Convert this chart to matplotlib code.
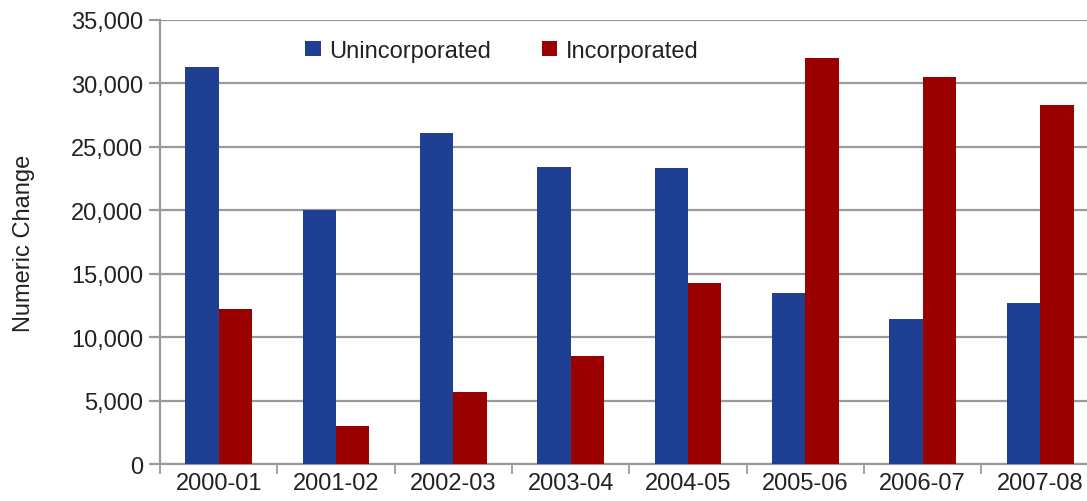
import numpy as np
import matplotlib
matplotlib.use("Agg")
import matplotlib.pyplot as plt
from matplotlib.ticker import FuncFormatter, FixedLocator, NullFormatter

plt.rcParams["font.family"] = ["Liberation Sans", "DejaVu Sans"]

years = ["2000-01", "2001-02", "2002-03", "2003-04", "2004-05", "2005-06", "2006-07", "2007-08"]
unincorporated = [31300, 20000, 26100, 23400, 23300, 13500, 11400, 12700]
incorporated = [12200, 3000, 5700, 8500, 14300, 32000, 30500, 28300]

blue = "#1f3f93"
red = "#9b0000"
grid_c = "#9a9a9a"

fig = plt.figure(figsize=(10.87, 5.02), dpi=100)
ax = fig.add_axes([0.1472, 0.0737, 0.8636, 0.8845])

x = np.arange(len(years))
w = 0.285
ax.bar(x - w / 2, unincorporated, w, color=blue, label="Unincorporated", zorder=3)
ax.bar(x + w / 2, incorporated, w, color=red, label="Incorporated", zorder=3)

ax.set_xlim(-0.5, len(years) - 0.5)
ax.set_ylim(0, 35000)
ax.set_yticks(np.arange(0, 35001, 5000))
ax.yaxis.set_major_formatter(FuncFormatter(lambda v, p: f"{int(v):,}"))
ax.yaxis.grid(True, color=grid_c, linewidth=1.6, zorder=0)

ax.set_xticks(x)
ax.set_xticklabels(years)
ax.tick_params(axis="x", which="major", length=0, labelsize=17, colors="#222222", pad=6)
ax.xaxis.set_minor_locator(FixedLocator(np.arange(-0.5, len(years), 1.0)))
ax.xaxis.set_minor_formatter(NullFormatter())
ax.tick_params(axis="x", which="minor", length=7, width=1.3, color=grid_c)
ax.tick_params(axis="y", length=8, width=1.6, color=grid_c, labelsize=17,
               labelcolor="#222222", pad=4)

for s in ["top", "right"]:
    ax.spines[s].set_visible(False)
for s in ["left", "bottom"]:
    ax.spines[s].set_color(grid_c)
    ax.spines[s].set_linewidth(1.6)

ax.set_ylabel("Numeric Change", fontsize=17, color="#222222", labelpad=26)

leg = ax.legend(loc="upper left", bbox_to_anchor=(0.132, 1.003), ncol=2, frameon=False,
                fontsize=17, handlelength=0.65, handleheight=0.65, handletextpad=0.35,
                columnspacing=2.18)
for t in leg.get_texts():
    t.set_color("#222222")

fig.savefig("out.png", dpi=100)
